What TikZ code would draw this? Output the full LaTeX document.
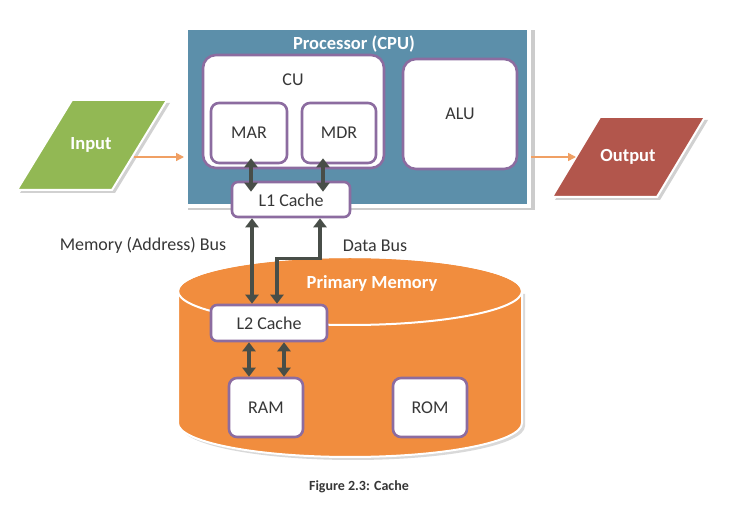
\documentclass[tikz,border=0pt]{standalone}
\usepackage{fontspec}
\setmainfont{Carlito}
\usetikzlibrary{arrows.meta,calc}
\definecolor{cpublue}{RGB}{92,143,170}
\definecolor{boxpurple}{RGB}{140,108,160}
\definecolor{ingreen}{RGB}{146,184,84}
\definecolor{outred}{RGB}{178,86,76}
\definecolor{memorange}{RGB}{241,141,62}
\definecolor{arrowgray}{RGB}{72,78,72}
\definecolor{txtgray}{RGB}{55,55,55}
\definecolor{linkorange}{RGB}{240,160,100}
\tikzset{
  whitebox/.style={draw=boxpurple, line width=2.6pt, fill=white, rounded corners=8pt, inner sep=0pt},
  lbl/.style={text=txtgray, font=\fontsize{18}{21}\selectfont},
  ttl/.style={text=white, font=\fontsize{18.5}{22}\selectfont\bfseries},
  dbl/.style={draw=arrowgray, line width=3.6pt, {Triangle[length=9pt,width=13pt]}-{Triangle[length=9pt,width=13pt]}},
  onearrow/.style={draw=linkorange, line width=1.5pt, -{Triangle[length=8pt,width=8pt]}},
}
\begin{document}
\begin{tikzpicture}[x=1pt,y=-1pt]
\useasboundingbox (0,0) rectangle (732,510);
\fill[white] (0,0) rectangle (732,510);

% Input
\fill[black!18] (75,103) -- (170,103) -- (115,193) -- (20,193) -- cycle;
\draw[fill=ingreen, draw=white, line width=2pt] (72,100) -- (167,100) -- (112,190) -- (17,190) -- cycle;
\node[ttl] (in) at (91,145) {Input};
\coordinate (inR) at (134,157);

% Output
\fill[black!18] (603,120) -- (708,120) -- (660,200) -- (555,200) -- cycle;
\draw[fill=outred, draw=white, line width=2pt] (600,117) -- (705,117) -- (657,197) -- (552,197) -- cycle;
\node[ttl] (out) at (628,157) {Output};
\coordinate (outL) at (576,157);

% Processor
\fill[black!20] (188,30) rectangle (535,210);
\node[rectangle, fill=cpublue, draw=white, line width=4pt, minimum width=343pt, minimum height=178pt, inner sep=0pt] (cpu) at (357.5,117) {};
\node[ttl] (cputitle) at (354,44) {Processor (CPU)};

\node[whitebox, rounded corners=13pt, minimum width=181pt, minimum height=113pt] (cu) at (293.5,111.5) {};
\node[lbl] (culbl) at (293,80) {CU};
\node[whitebox, minimum width=76pt, minimum height=60pt] (mar) at (249,133) {};
\node[lbl] at (mar) {MAR};
\node[whitebox, minimum width=74pt, minimum height=60pt] (mdr) at (339,133) {};
\node[lbl] at (mdr) {MDR};
\node[whitebox, rounded corners=13pt, minimum width=114pt, minimum height=110pt] (alu) at (460,114) {};
\node[lbl] at (alu) {ALU};
\node[whitebox, rounded corners=6pt, minimum width=118pt, minimum height=35pt] (l1) at (291,199.5) {};
\node[lbl] (l1lbl) at ($(l1)+(0,1)$) {L1 Cache};

\draw[onearrow] (inR) -- (inR -| cpu.west);
\draw[onearrow] (outL -| cpu.east) -- (outL);

% Primary memory cylinder
\fill[black!15] (181,294) -- (181,426) arc[start angle=180, end angle=360, x radius=172pt, y radius=34pt] -- (525,294) -- cycle;
\draw[fill=memorange, draw=white, line width=2pt]
  (178,291) -- (178,423) arc[start angle=180, end angle=360, x radius=172pt, y radius=34pt]
  -- (522,291) arc[start angle=0, end angle=180, x radius=172pt, y radius=34pt] -- cycle;
\draw[draw=white, line width=2pt] (350,291) ellipse[x radius=172pt, y radius=34pt];
\node[ttl] (pm) at (372,283) {Primary Memory};

\node[whitebox, rounded corners=6pt, minimum width=116pt, minimum height=36pt] (l2) at (269,323) {};
\node[lbl] at (l2) {L2 Cache};
\node[whitebox, minimum width=74pt, minimum height=59pt] (ram) at (266,407.5) {};
\node[lbl] at (ram) {RAM};
\node[whitebox, minimum width=74pt, minimum height=59pt] (rom) at (430,407.5) {};
\node[lbl] at (rom) {ROM};

% bus arrows
\draw[dbl] ($(mar.south)+(2,-6)$) -- ($(l1.north)+(-40,11)$);
\draw[dbl] ($(mdr.south)+(-16,-6)$) -- ($(l1.north)+(32,11)$);
\draw[dbl] ($(l1.south)+(-39,0)$) -- ($(l2.north)+(-17,0)$);
\draw[dbl] ($(l1.south)+(29,0)$) |- ($(l2.north)+(8,-45)$) -- ($(l2.north)+(8,0)$);
\draw[dbl] ($(l2.south)+(-20,0)$) -- ($(ram.north)+(-17,0)$);
\draw[dbl] ($(l2.south)+(15,0)$) -- ($(ram.north)+(18,0)$);

\node[lbl] (mab) at (143,245) {Memory (Address) Bus};
\node[lbl] (db) at (375,246) {Data Bus};

\node[text=txtgray, font=\fontsize{14}{16}\selectfont\bfseries] (cap) at (359,487) {Figure 2.3: Cache};
\end{tikzpicture}
\end{document}
